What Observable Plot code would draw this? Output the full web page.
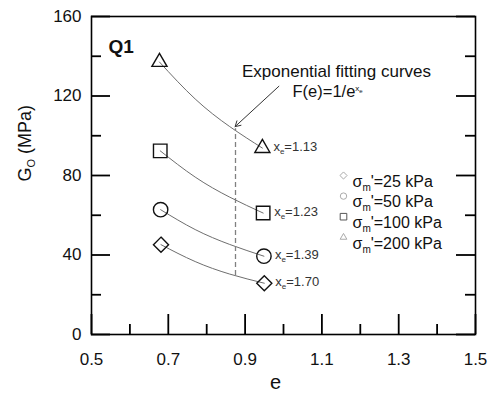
<!DOCTYPE html>
<html>
<head>
<meta charset="utf-8">
<script src="https://cdn.jsdelivr.net/npm/d3@7"></script>
<script src="https://cdn.jsdelivr.net/npm/@observablehq/plot@0.6"></script>
<style>
  html, body { margin: 0; padding: 0; background: #fff; }
</style>
</head>
<body>
<div id="chart"></div>
<script>
// Axis ticks
const eTicks = [0.5, 0.7, 0.9, 1.1, 1.3, 1.5];
const eMinor = [0.6, 0.8, 1.0, 1.2, 1.4];
const gTicks = [0, 40, 80, 120, 160];
const gMinor = [20, 60, 100, 140];

// Mean effective confining stress series
const stresses = ["25 kPa", "50 kPa", "100 kPa", "200 kPa"];
const symbols = ["diamond2", "circle", "square2", "triangle2"];
const exponents = [1.70, 1.39, 1.23, 1.13];

// Measured points: dense state (low e) and loose state (high e)
const eDense = [0.681, 0.680, 0.679, 0.677];
const gDense = [45.2, 62.8, 92.4, 137.1];
const eLoose = [0.950, 0.949, 0.947, 0.945];
const gLoose = [25.8, 39.4, 61.1, 93.8];

// Points along each fitting curve between the two measurements
const curveE = [0.77, 0.86];
const curveG = [
  [36.7, 30.4],
  [52.8, 45.3],
  [79.2, 69.1],
  [118.5, 104.6]
];

// Dashed guide and arrow of the fitting-curve note
const guide = [{e: 0.875, from: 29.7, to: 103.5}];
const pointer = [{e1: 0.988, g1: 124.9, e2: 0.874, g2: 104.6}];

// Tables built from the arrays above
const points = stresses.flatMap((s, i) => [
  {stress: s, e: eDense[i], G: gDense[i]},
  {stress: s, e: eLoose[i], G: gLoose[i]}
]);
const curves = stresses.flatMap((s, i) => [
  {stress: s, e: eDense[i], G: gDense[i]},
  ...curveE.map((e, j) => ({stress: s, e, G: curveG[i][j]})),
  {stress: s, e: eLoose[i], G: gLoose[i]}
]);
const fitLabels = stresses.map((s, i) => ({
  e: eLoose[i], G: gLoose[i], text: "xe=" + exponents[i].toFixed(2)
}));

const W = 493, H = 401;
const mL = 91, mR = 18, mT = 16, mB = 67;
const fw = W - mL - mR, fh = H - mT - mB;
const FONT = "'Liberation Sans', Arial, Helvetica, sans-serif";

const sizes = {diamond2: 6.8, circle: 7.2, square2: 8.6, triangle2: 7.2};

const marks = [
  // tick marks drawn inside the frame
  Plot.ruleX(eTicks, {insetTop: fh - 20, stroke: "#000", strokeWidth: 1.8}),
  Plot.ruleX(eMinor, {insetTop: fh - 10, stroke: "#000", strokeWidth: 1.8}),
  Plot.ruleY(gTicks, {insetRight: fw - 19, stroke: "#000", strokeWidth: 1.8}),
  Plot.ruleY(gMinor, {insetRight: fw - 10, stroke: "#000", strokeWidth: 1.8}),
  Plot.ruleY(gTicks, {insetLeft: fw - 19, stroke: "#000", strokeWidth: 1.8}),
  Plot.ruleY(gMinor, {insetLeft: fw - 10, stroke: "#000", strokeWidth: 1.8}),
  Plot.frame({stroke: "#000", strokeWidth: 1.6}),
  Plot.axisX(eTicks, {tickSize: 0, tickPadding: 18, fontSize: 17, tickFormat: d3.format(".1f"), label: null, fill: "#111"}),
  Plot.axisY(gTicks, {tickSize: 0, tickPadding: 10, fontSize: 17, label: null, fill: "#111"}),

  // fitting curves and guide
  Plot.line(curves, {x: "e", y: "G", z: "stress", curve: "natural", stroke: "#6e6e6e", strokeWidth: 1}),
  Plot.ruleX(guide, {x: "e", y1: "from", y2: "to", stroke: "#808080", strokeWidth: 1.3, strokeDasharray: "5,3"}),
  Plot.arrow(pointer, {x1: "e1", y1: "g1", x2: "e2", y2: "g2", stroke: "#333", strokeWidth: 1, headLength: 9, bend: 0}),

  // measured points
  ...stresses.map((s, i) => Plot.dot(points.filter(d => d.stress === s), {
    x: "e", y: "G", symbol: symbols[i], r: sizes[symbols[i]],
    stroke: "#111", strokeWidth: 1.4, fill: "none"
  })),

  // exponent labels
  Plot.text(fitLabels, {x: "e", y: "G", text: "text", dx: 11, dy: -1.5, textAnchor: "start", fontSize: 13, fill: "#333"}),

  // annotations
  Plot.text(["Q1"], {frameAnchor: "top-left", dx: 17, dy: 23, textAnchor: "start", fontSize: 19, fontWeight: "bold", fill: "#111"}),
  Plot.text(["Exponential fitting curves"], {frameAnchor: "top-left", dx: 245, dy: 48.4, textAnchor: "middle", fontSize: 17, fill: "#111"}),
  Plot.text(["F(e)=1/exe"], {frameAnchor: "top-left", dx: 201, dy: 68.4, textAnchor: "start", fontSize: 16.5, fill: "#111"}),

  // axis titles
  Plot.text(["e"], {frameAnchor: "bottom", dx: -8, dy: 54, fontSize: 20, fill: "#111"}),
  Plot.text(["GO (MPa)"], {frameAnchor: "left", dx: -65.8, dy: 6, rotate: -90, fontSize: 18, fill: "#111"}),

  // legend
  ...stresses.flatMap((s, i) => [
    Plot.dot([s], {frameAnchor: "top-left", dx: 252, dy: 159 + i * 20.6, symbol: symbols[i], r: symbols[i] === "square2" ? 4.2 : 3.2,
      stroke: symbols[i] === "square2" ? "#555" : "#aaa", strokeWidth: 1, fill: "none"}),
    Plot.text(["σm'=" + s], {frameAnchor: "top-left", dx: 261, dy: 159 + i * 20.6, textAnchor: "start", fontSize: 16, fill: "#111"})
  ])
];

const svg = Plot.plot({
  width: W, height: H,
  marginLeft: mL, marginRight: mR, marginTop: mT, marginBottom: mB,
  x: {domain: [0.5, 1.5]},
  y: {domain: [0, 160]},
  style: {fontFamily: FONT, background: "#fff", color: "#111"},
  marks
});

// Sub- and superscripts: each segment is [text, font size, rise in px]
function richText(root, plain, segs) {
  d3.select(root).selectAll("text")
    .filter(function () { return this.textContent === plain; })
    .each(function () {
      const t = d3.select(this);
      t.text(null);
      let cur = 0;
      for (const [str, size, rise] of segs) {
        const ts = t.append("tspan").attr("font-size", size).text(str);
        if (cur - rise !== 0) ts.attr("dy", cur - rise);
        cur = rise;
      }
    });
}

richText(svg, "GO (MPa)", [["G", 18, 0], ["O", 11, -4], [" (MPa)", 18, 0]]);
richText(svg, "F(e)=1/exe", [["F(e)=1/e", 16.5, 0], ["x", 8, 6], ["e", 6, 4]]);
fitLabels.forEach(d => {
  const v = d.text.slice(3);
  richText(svg, d.text, [["x", 13, 0], ["e", 8, -3], ["=" + v, 13, 0]]);
});
stresses.forEach(s => {
  richText(svg, "σm'=" + s, [["σ", 16, 0], ["m", 10, -4], ["'=" + s, 16, 0]]);
});

document.getElementById("chart").appendChild(svg);
</script>
</body>
</html>
